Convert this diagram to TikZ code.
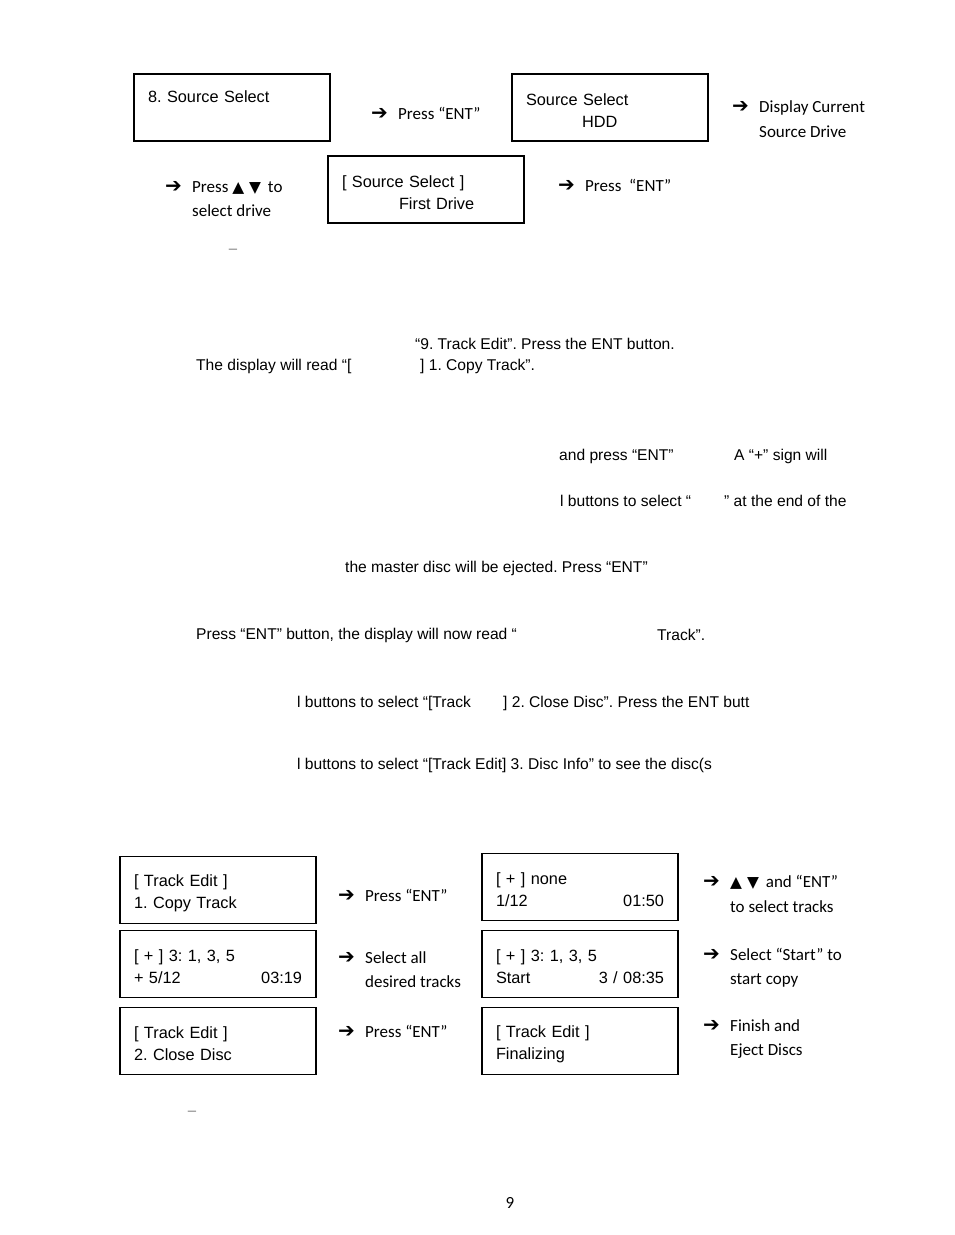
\documentclass[tikz,border=0pt]{standalone}
\usepackage{fontspec}
\setmainfont{Liberation Sans}
\newfontfamily\calfont{Carlito}
\newfontfamily\symfont{DejaVu Sans}
\usetikzlibrary{positioning}
\frenchspacing
\newcommand{\arw}{\makebox[27pt][l]{\symfont\bfseries\fontsize{20}{20}\selectfont ➔}}
\newcommand{\updn}{{\symfont\fontsize{15.5}{15.5}\selectfont ▲\hspace{5pt}▼\hspace{3pt}}}

\begin{document}
\begin{tikzpicture}[
    x=1pt, y=-1pt,
    lcd/.style={
        draw, line width=1.6pt, minimum width=196pt, minimum height=67pt,
        text width=168pt, inner xsep=14pt, align=left,
        font=\fontsize{16.3}{22}\selectfont,
        execute at begin node={\rule{0pt}{18pt}}
    },
    hint/.style={anchor=west, inner sep=0pt, align=left, font=\calfont\fontsize{17}{24.5}\selectfont},
    body/.style={anchor=west, inner sep=0pt, font=\fontsize{15.6}{18}\selectfont},
    dash mark/.style={inner sep=0pt, text=gray, font=\fontsize{15}{15}\selectfont}
]
    \useasboundingbox (0,0) rectangle (954,1235);

    % source select
    \node[lcd] (srcmenu) at (232,107.5) {8. Source Select\\ \strut};
    \node[hint] (srcent) at (371,113) {\arw Press “ENT”};
    \node[lcd] (srchdd) at (610,107.5) {Source Select\\\hspace*{56pt}HDD};
    \node[hint] (srcshow) at (732,119) {\arw Display Current\\\hspace*{27pt}Source Drive};

    \node[hint] (srcpick) at (165,199) {\arw Press \updn{} to\\\hspace*{27pt}select drive};
    \node[lcd] (srcfirst) at (426,189.5) {[ Source Select ]\\\hspace*{57pt}First Drive};
    \node[hint] (srcok) at (558,185) {\arw Press \ “ENT”};
    \node[dash mark] (dashA) at (233,251) {–};

    % body text
    \node[body] (txtA) at (415,344) {“9. Track Edit”. Press the ENT button.};
    \node[body] (txtB) at (196,366) {The display will read “[};
    \node[body] (txtC) at (420,366) {] 1. Copy Track”.};
    \node[body] (txtD) at (559,456) {and press “ENT”};
    \node[body] (txtE) at (734,456) {A “+” sign will};
    \node[body] (txtF) at (560,501) {l buttons to select “};
    \node[body] (txtG) at (724,501) {” at the end of the};
    \node[body] (txtH) at (345,568) {the master disc will be ejected. Press “ENT”};
    \node[body] (txtI) at (196,635) {Press “ENT” button, the display will now read “};
    \node[body] (txtJ) at (657,635) {Track”.};
    \node[body] (txtK) at (297,703) {l buttons to select “[Track};
    \node[body] (txtL) at (503,703) {] 2. Close Disc”. Press the ENT butt};
    \node[body] (txtM) at (297,765) {l buttons to select “[Track Edit] 3. Disc Info” to see the disc(s};

    % track edit
    \node[lcd] (copymenu) at (218,890) {[ Track Edit ]\\1. Copy Track};
    \node[hint] (copyent) at (338,895) {\arw Press “ENT”};
    \node[lcd] (nonesel) at (580,887) {[ + ] none\\1/12\hfill 01:50};
    \node[hint] (nonehint) at (703,894) {\arw \updn{} and “ENT”\\\hspace*{27pt}to select tracks};

    \node[lcd] (tracksel) at (218,964) {[ + ] 3: 1, 3, 5\\+ 5/12\hfill 03:19};
    \node[hint] (trackhint) at (338,969.5) {\arw Select all\\\hspace*{27pt}desired tracks};
    \node[lcd] (startsel) at (580,964) {[ + ] 3: 1, 3, 5\\Start\hfill 3 / 08:35};
    \node[hint] (starthint) at (703,967.5) {\arw Select “Start” to\\\hspace*{27pt}start copy};

    \node[lcd] (closemenu) at (218,1041) {[ Track Edit ]\\2. Close Disc};
    \node[hint] (closeent) at (338,1031) {\arw Press “ENT”};
    \node[lcd] (finalize) at (580,1041) {[ Track Edit ]\\Finalizing};
    \node[hint] (finalhint) at (703,1039) {\arw Finish and\\\hspace*{27pt}Eject Discs};
    \node[dash mark] (dashB) at (192,1113) {–};

    \node[font=\calfont\fontsize{17}{17}\selectfont, inner sep=0pt] (pagenum) at (510,1203) {9};
\end{tikzpicture}
\end{document}
